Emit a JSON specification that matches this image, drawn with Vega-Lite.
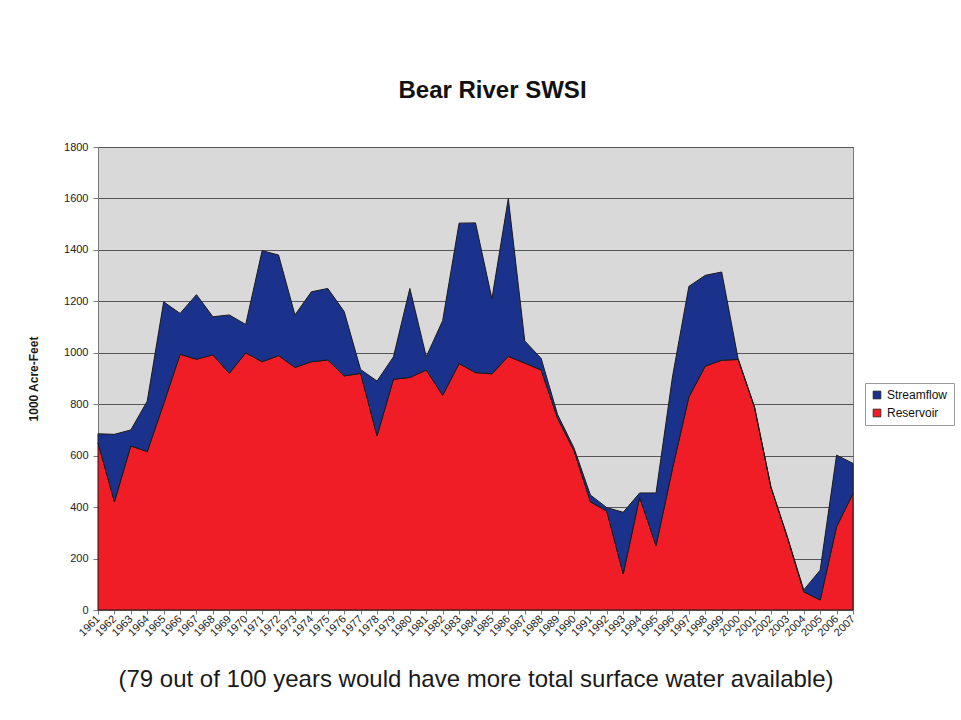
{
  "$schema": "https://vega.github.io/schema/vega-lite/v6.json",
  "width": 755,
  "height": 463,
  "autosize": {"type": "none"},
  "padding": {"left": 98, "top": 147, "right": 108, "bottom": 110},
  "background": "#ffffff",
  "config": {
    "font": "Liberation Sans",
    "view": {"fill": "#d9d9d9", "stroke": "#7a7a7a", "strokeWidth": 1}
  },
  "title": {
    "text": "Bear River SWSI",
    "fontSize": 24,
    "fontWeight": "bold",
    "font": "Liberation Sans",
    "color": "#111111",
    "anchor": "middle",
    "dx": 17,
    "offset": 38
  },
  "data": {
    "values": [
      {"year": 1961, "series": "Reservoir", "value": 650}, {"year": 1961, "series": "Streamflow", "value": 35},
      {"year": 1962, "series": "Reservoir", "value": 421}, {"year": 1962, "series": "Streamflow", "value": 262},
      {"year": 1963, "series": "Reservoir", "value": 638}, {"year": 1963, "series": "Streamflow", "value": 62},
      {"year": 1964, "series": "Reservoir", "value": 616}, {"year": 1964, "series": "Streamflow", "value": 196},
      {"year": 1965, "series": "Reservoir", "value": 802}, {"year": 1965, "series": "Streamflow", "value": 396},
      {"year": 1966, "series": "Reservoir", "value": 994}, {"year": 1966, "series": "Streamflow", "value": 159},
      {"year": 1967, "series": "Reservoir", "value": 975}, {"year": 1967, "series": "Streamflow", "value": 251},
      {"year": 1968, "series": "Reservoir", "value": 992}, {"year": 1968, "series": "Streamflow", "value": 148},
      {"year": 1969, "series": "Reservoir", "value": 920}, {"year": 1969, "series": "Streamflow", "value": 227},
      {"year": 1970, "series": "Reservoir", "value": 1000}, {"year": 1970, "series": "Streamflow", "value": 110},
      {"year": 1971, "series": "Reservoir", "value": 965}, {"year": 1971, "series": "Streamflow", "value": 432},
      {"year": 1972, "series": "Reservoir", "value": 989}, {"year": 1972, "series": "Streamflow", "value": 391},
      {"year": 1973, "series": "Reservoir", "value": 943}, {"year": 1973, "series": "Streamflow", "value": 204},
      {"year": 1974, "series": "Reservoir", "value": 965}, {"year": 1974, "series": "Streamflow", "value": 272},
      {"year": 1975, "series": "Reservoir", "value": 972}, {"year": 1975, "series": "Streamflow", "value": 278},
      {"year": 1976, "series": "Reservoir", "value": 910}, {"year": 1976, "series": "Streamflow", "value": 250},
      {"year": 1977, "series": "Reservoir", "value": 920}, {"year": 1977, "series": "Streamflow", "value": 15},
      {"year": 1978, "series": "Reservoir", "value": 677}, {"year": 1978, "series": "Streamflow", "value": 213},
      {"year": 1979, "series": "Reservoir", "value": 897}, {"year": 1979, "series": "Streamflow", "value": 87},
      {"year": 1980, "series": "Reservoir", "value": 904}, {"year": 1980, "series": "Streamflow", "value": 346},
      {"year": 1981, "series": "Reservoir", "value": 933}, {"year": 1981, "series": "Streamflow", "value": 52},
      {"year": 1982, "series": "Reservoir", "value": 835}, {"year": 1982, "series": "Streamflow", "value": 290},
      {"year": 1983, "series": "Reservoir", "value": 958}, {"year": 1983, "series": "Streamflow", "value": 546},
      {"year": 1984, "series": "Reservoir", "value": 923}, {"year": 1984, "series": "Streamflow", "value": 582},
      {"year": 1985, "series": "Reservoir", "value": 918}, {"year": 1985, "series": "Streamflow", "value": 292},
      {"year": 1986, "series": "Reservoir", "value": 986}, {"year": 1986, "series": "Streamflow", "value": 614},
      {"year": 1987, "series": "Reservoir", "value": 960}, {"year": 1987, "series": "Streamflow", "value": 86},
      {"year": 1988, "series": "Reservoir", "value": 933}, {"year": 1988, "series": "Streamflow", "value": 45},
      {"year": 1989, "series": "Reservoir", "value": 745}, {"year": 1989, "series": "Streamflow", "value": 15},
      {"year": 1990, "series": "Reservoir", "value": 620}, {"year": 1990, "series": "Streamflow", "value": 10},
      {"year": 1991, "series": "Reservoir", "value": 421}, {"year": 1991, "series": "Streamflow", "value": 26},
      {"year": 1992, "series": "Reservoir", "value": 384}, {"year": 1992, "series": "Streamflow", "value": 14},
      {"year": 1993, "series": "Reservoir", "value": 140}, {"year": 1993, "series": "Streamflow", "value": 240},
      {"year": 1994, "series": "Reservoir", "value": 438}, {"year": 1994, "series": "Streamflow", "value": 17},
      {"year": 1995, "series": "Reservoir", "value": 250}, {"year": 1995, "series": "Streamflow", "value": 205},
      {"year": 1996, "series": "Reservoir", "value": 550}, {"year": 1996, "series": "Streamflow", "value": 356},
      {"year": 1997, "series": "Reservoir", "value": 828}, {"year": 1997, "series": "Streamflow", "value": 430},
      {"year": 1998, "series": "Reservoir", "value": 948}, {"year": 1998, "series": "Streamflow", "value": 353},
      {"year": 1999, "series": "Reservoir", "value": 971}, {"year": 1999, "series": "Streamflow", "value": 343},
      {"year": 2000, "series": "Reservoir", "value": 974}, {"year": 2000, "series": "Streamflow", "value": 3},
      {"year": 2001, "series": "Reservoir", "value": 787}, {"year": 2001, "series": "Streamflow", "value": 3},
      {"year": 2002, "series": "Reservoir", "value": 476}, {"year": 2002, "series": "Streamflow", "value": 3},
      {"year": 2003, "series": "Reservoir", "value": 282}, {"year": 2003, "series": "Streamflow", "value": 3},
      {"year": 2004, "series": "Reservoir", "value": 71}, {"year": 2004, "series": "Streamflow", "value": 7},
      {"year": 2005, "series": "Reservoir", "value": 39}, {"year": 2005, "series": "Streamflow", "value": 116},
      {"year": 2006, "series": "Reservoir", "value": 324}, {"year": 2006, "series": "Streamflow", "value": 278},
      {"year": 2007, "series": "Reservoir", "value": 453}, {"year": 2007, "series": "Streamflow", "value": 117}
    ]
  },
  "mark": {"type": "area", "stroke": "#1a1a1a", "strokeWidth": 1, "strokeJoin": "miter"},
  "encoding": {
    "x": {
      "field": "year",
      "type": "ordinal",
      "scale": {"type": "point", "padding": 0},
      "axis": {
        "title": "(79 out of 100 years would have more total surface water available)",
        "titleFontSize": 24,
        "titleFontWeight": "normal",
        "titleColor": "#1a1a1a",
        "titleFont": "Liberation Sans",
        "titlePadding": 30,
        "labelAngle": -45,
        "labelAlign": "right",
        "labelBaseline": "middle",
        "labelFontSize": 11,
        "labelColor": "#222222",
        "labelOverlap": false,
        "labelPadding": 3,
        "tickSize": 4,
        "tickColor": "#7a7a7a",
        "domainColor": "#7a7a7a",
        "grid": false
      }
    },
    "y": {
      "field": "value",
      "type": "quantitative",
      "stack": "zero",
      "scale": {"domain": [0, 1800], "nice": false},
      "axis": {
        "title": "1000 Acre-Feet",
        "titleFontSize": 12,
        "titleFontWeight": "bold",
        "titleColor": "#1a1a1a",
        "titlePadding": 23,
        "format": "d",
        "values": [0, 200, 400, 600, 800, 1000, 1200, 1400, 1600, 1800],
        "labelFontSize": 11,
        "labelColor": "#222222",
        "labelPadding": 5,
        "tickSize": 5,
        "tickColor": "#7a7a7a",
        "domainColor": "#7a7a7a",
        "grid": true,
        "gridColor": "#555555",
        "gridWidth": 1
      }
    },
    "color": {
      "field": "series",
      "type": "nominal",
      "scale": {"domain": ["Streamflow", "Reservoir"], "range": ["#1b328c", "#f01c26"]},
      "legend": {
        "title": null,
        "orient": "none",
        "legendX": 767,
        "legendY": 236,
        "symbolType": "square",
        "symbolSize": 60,
        "symbolStrokeColor": "#222222",
        "symbolStrokeWidth": 0.8,
        "labelFontSize": 12,
        "labelColor": "#111111",
        "rowPadding": 6,
        "padding": 6,
        "fillColor": "#ffffff",
        "strokeColor": "#9a9a9a"
      }
    },
    "order": {"field": "series", "sort": "ascending"}
  }
}
